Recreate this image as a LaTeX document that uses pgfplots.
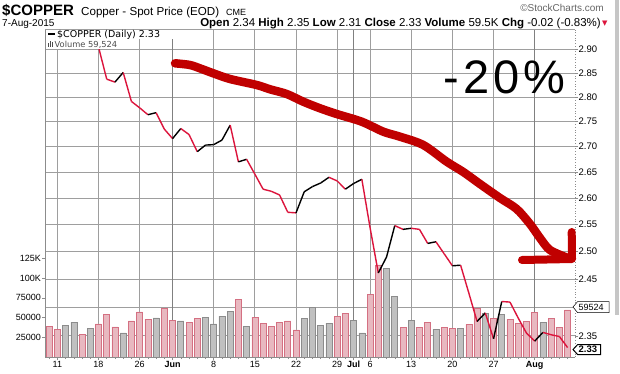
\documentclass[border=0pt]{standalone}
\usepackage{pgfplots}
\pgfplotsset{compat=1.18}
\usepackage{pgfplotstable}
\usepackage{fontspec}
\setmainfont{Liberation Sans}
\newfontfamily\dejavu{DejaVu Sans}
\definecolor{pricered}{RGB}{220,20,60}
\definecolor{arrowred}{RGB}{192,0,0}
\definecolor{pinkfill}{RGB}{232,184,192}
\definecolor{pinkedge}{RGB}{212,112,130}
\definecolor{grayfill}{RGB}{192,192,192}
\definecolor{grayedge}{RGB}{140,140,140}
\definecolor{weekgrid}{RGB}{158,158,158}
\definecolor{monthc}{RGB}{128,128,128}
\definecolor{axisc}{RGB}{140,140,140}

% i = trading-day index (0 = 11 May 2015), seg = direction of the following segment
\pgfplotstableread{
i price vol up seg
-1 2.920 38800 0 0
0 2.910 35400 0 1
1 2.940 40500 1 1
2 2.970 44300 1 0
3 2.930 29100 0 1
4 2.960 36700 1 0
5 2.905 41800 0 0
6 2.837 54400 0 0
7 2.831 38000 0 1
8 2.851 30400 1 0
9 2.791 45600 0 0
10 2.778 57000 0 0
11 2.764 48100 0 1
12 2.768 49400 1 0
13 2.735 62000 0 0
14 2.716 46800 0 1
15 2.736 45600 1 0
16 2.724 44300 0 0
17 2.690 48900 0 1
18 2.703 50600 1 1
19 2.704 41800 1 1
20 2.713 51900 1 1
21 2.743 58200 1 0
22 2.670 73400 0 1
23 2.675 39200 1 0
24 2.646 50600 0 0
25 2.617 43000 0 0
26 2.613 39200 0 0
27 2.606 44300 0 0
28 2.573 45600 0 0
29 2.572 34200 0 1
30 2.612 49000 1 1
31 2.622 63000 1 1
32 2.629 40300 1 1
33 2.640 43000 1 0
34 2.633 51500 0 0
35 2.617 55300 0 1
36 2.628 46400 1 1
37 2.636 30400 1 0
38 2.544 79700 0 0
39 2.461 116500 0 1
40 2.490 112300 1 1
41 2.548 77200 1 0
42 2.541 37600 0 1
43 2.543 46400 1 0
44 2.541 37600 0 0
45 2.515 43900 0 1
46 2.518 35000 1 0
47 2.496 37600 0 0
48 2.474 36300 0 1
49 2.475 36300 1 0
50 2.425 41400 0 0
51 2.375 61600 0 1
52 2.390 55300 1 0
53 2.345 49000 0 1
54 2.410 54000 1 0
55 2.409 47700 0 0
56 2.381 43000 0 0
57 2.355 45200 0 0
58 2.341 56500 0 1
59 2.356 43900 1 0
60 2.352 49000 0 0
61 2.349 37600 0 0
62 2.330 59524 0 0
}\copper

\pgfplotsset{
  chartbox/.style={at={(45pt,16pt)}, anchor=south west, width=530pt, height=327.5pt,
    scale only axis, xmin=-1.5, xmax=62.9},
}

\begin{document}
\begin{tikzpicture}
\useasboundingbox (0pt,0pt) rectangle (620pt,373pt);
\fill[white] (0pt,0pt) rectangle (620pt,373pt);

% ---- price grid and right-hand labels
\begin{axis}[chartbox,
  ymode=log, ymin=2.3139, ymax=2.9424,
  axis line style={draw=none},
  xtick=\empty, ytick=\empty,
  ytick pos=right, yticklabel pos=right, tick align=outside,
  extra x ticks={0,5,10,19,24,29,34,38,43,48,53}, extra x tick labels={},
  extra x tick style={grid=major, major grid style={draw=weekgrid, line width=0.8pt},
    major tick length=0pt},
  extra y ticks={2.35,2.40,2.45,2.50,2.55,2.60,2.65,2.70,2.75,2.80,2.85,2.90},
  extra y tick labels={2.35,,2.45,2.50,2.55,2.60,2.65,2.70,2.75,2.80,2.85,2.90},
  extra y tick style={grid=major, major grid style={draw=weekgrid, line width=0.8pt},
    major tick length=3pt, tick style={draw=axisc, line width=0.5pt},
    yticklabel style={font=\fontsize{9.5}{10}\selectfont, inner sep=0.5pt}},
]
\addplot[draw=none] table[x=i, y=price] {\copper};
\end{axis}

% ---- volume bars
\begin{axis}[chartbox,
  ymin=0, ymax=414550,
  axis line style={draw=none},
  xtick={0,5,10,14,19,24,29,34,36,38,43,48,53,58},
  xticklabels={11,18,26,\textbf{Jun},8,15,22,29,\textbf{Jul},6,13,20,27,\textbf{Aug}},
  minor xtick={-1,...,62},
  xtick pos=bottom, tick align=outside, major tick length=3pt, minor tick length=2pt,
  xtick style={draw=axisc, line width=0.5pt},
  minor x tick style={draw=axisc, line width=0.5pt},
  xticklabel style={font=\fontsize{9}{10}\selectfont, inner sep=1pt},
  extra x ticks={14,36,58}, extra x tick labels={},
  extra x tick style={grid=major, major grid style={draw=monthc, line width=0.9pt}},
  ytick={25000,50000,75000,100000,125000}, yticklabels={25000,50000,75000,100K,125K},
  scaled y ticks=false,
  ytick pos=left, yticklabel pos=left,
  ytick style={draw=axisc, line width=0.5pt},
  yticklabel style={font=\fontsize{9}{10}\selectfont, inner sep=1pt},
]
\addplot[ybar, bar width=6pt, bar shift=0pt, fill=pinkfill, draw=pinkedge, line width=0.6pt,
  restrict expr to domain={\thisrow{up}}{0:0.5}] table[x=i, y=vol] {\copper};
\addplot[ybar, bar width=6pt, bar shift=0pt, fill=grayfill, draw=grayedge, line width=0.6pt,
  restrict expr to domain={\thisrow{up}}{0.5:1}] table[x=i, y=vol] {\copper};
\end{axis}

% ---- price line
\begin{axis}[chartbox, hide axis,
  ymode=log, ymin=2.3139, ymax=2.9424,
  colormap={updown}{rgb255(0)=(220,20,60) rgb255(1)=(0,0,0)},
  point meta min=0, point meta max=1,
]
\addplot[mesh, shader=flat corner, point meta=\thisrow{seg}, line width=1.4pt, line join=round]
  table[x=i, y=price] {\copper};
\end{axis}

% ---- frame
\draw[axisc, line width=0.7pt] (45pt,16pt) -- (45pt,343.5pt);
\draw[axisc, line width=0.7pt] (45pt,16pt) -- (575pt,16pt);
\draw[weekgrid, line width=0.8pt] (45pt,343.5pt) -- (575pt,343.5pt);
\draw[axisc, line width=0.7pt, dotted] (575pt,16pt) -- (575pt,343.5pt);

% ---- legend
\fill[white] (45.5pt,334pt) rectangle (183pt,343pt);
\fill[white] (45.5pt,323.5pt) rectangle (124pt,334pt);
\draw[black, line width=2pt] (48pt,338.5pt) -- (55pt,338.5pt);
\node[anchor=base west, inner sep=0pt, font=\dejavu\fontsize{9.5}{10}\selectfont] at (57pt,335pt) {\$COPPER (Daily) 2.33};
\fill[black!70] (48pt,325.5pt) rectangle (49.3pt,329.5pt);
\fill[black!70] (50pt,325.5pt) rectangle (51.3pt,332pt);
\fill[black!70] (52pt,325.5pt) rectangle (53.3pt,330.5pt);
\node[anchor=base west, inner sep=0pt, text=black!70, font=\dejavu\fontsize{8.3}{9}\selectfont] at (54.5pt,325.7pt) {Volume 59,524};

% ---- hand-drawn annotation
\draw[arrowred, line width=8.5pt, line cap=round, line join=round] plot[smooth, tension=0.5] coordinates {
 (175pt,309.7pt) (190pt,308pt) (201.7pt,304pt) (213.3pt,299.7pt) (230pt,294pt) (256.7pt,288pt)
 (270pt,283.7pt) (286.7pt,279pt) (303.3pt,271.3pt) (320pt,264.7pt) (336.7pt,259pt) (361.7pt,251.3pt)
 (383.3pt,241.3pt) (400pt,236.3pt) (423.3pt,228pt) (446.7pt,211.3pt) (463.3pt,201pt) (480pt,189pt)
 (500pt,175pt) (516.7pt,164pt) (530pt,149pt) (540pt,135pt) (550pt,123pt) (568pt,115pt)};
\draw[arrowred, line width=8pt, line cap=round, line join=round] (522pt,113pt) -- (572pt,114pt) -- (571.7pt,141pt);
\node[anchor=base west, inner sep=0pt, font=\fontsize{47}{48}\selectfont\addfontfeature{LetterSpace=9}] at (443pt,280pt) {-20\%};

% ---- right-hand value flags
\draw[black, line width=0.5pt, fill=white] (573pt,66pt) -- (577.5pt,71.3pt) -- (609pt,71.3pt) -- (609pt,60.5pt) -- (577.5pt,60.5pt) -- cycle;
\node[anchor=west, inner sep=0pt, font=\fontsize{9}{10}\selectfont] at (578.5pt,66pt) {59524};
\draw[black, line width=1pt, fill=white] (573pt,23.5pt) -- (577.5pt,28.3pt) -- (600.5pt,28.3pt) -- (600.5pt,18.5pt) -- (577.5pt,18.5pt) -- cycle;
\node[anchor=west, inner sep=0pt, font=\bfseries\fontsize{9.5}{10}\selectfont] at (578.5pt,23.5pt) {2.33};
\fill[gray!45] (615pt,58pt) rectangle (619pt,373pt);

% ---- header
\node[anchor=base west, inner sep=0pt, font=\bfseries\fontsize{15}{16}\selectfont] at (2pt,357pt) {\$COPPER};
\node[anchor=base west, inner sep=0pt, font=\fontsize{11.6}{13}\selectfont] at (81pt,357pt) {Copper - Spot Price (EOD)};
\node[anchor=base west, inner sep=0pt, font=\fontsize{9}{10}\selectfont] at (226pt,357pt) {CME};
\node[anchor=base east, inner sep=0pt, text=black!60, font=\fontsize{10}{11}\selectfont] at (604pt,361pt) {\textcopyright StockCharts.com};
\node[anchor=base west, inner sep=0pt, font=\fontsize{10}{11}\selectfont] at (2pt,346pt) {7-Aug-2015};
\node[anchor=base east, inner sep=0pt, font=\fontsize{11.5}{12}\selectfont] at (601pt,346pt) {\textbf{Open} 2.34 \textbf{High} 2.35 \textbf{Low} 2.31 \textbf{Close} 2.33 \textbf{Volume} 59.5K \textbf{Chg} -0.02 (-0.83\%)};
\node[anchor=base west, inner sep=0pt, text=pricered, font=\dejavu\fontsize{7}{8}\selectfont] at (602pt,347pt) {▼};
\end{tikzpicture}
\end{document}
